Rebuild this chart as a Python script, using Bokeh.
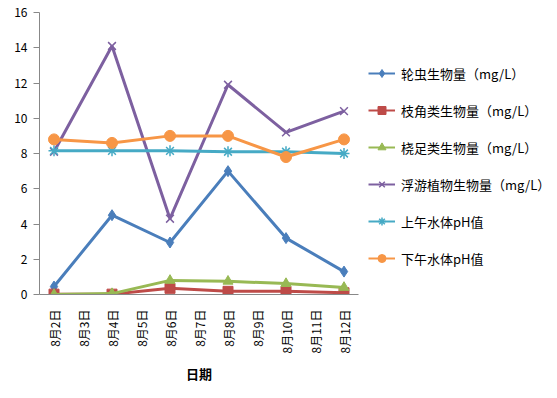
import math
from bokeh.plotting import figure
from bokeh.layouts import row
from bokeh.models import FactorRange, Legend, LegendItem, Range1d
from bokeh.embed import file_html
from bokeh.resources import INLINE

dates = ["8月2日", "8月3日", "8月4日", "8月5日", "8月6日", "8月7日",
         "8月8日", "8月9日", "8月10日", "8月11日", "8月12日"]
sample_dates = ["8月2日", "8月4日", "8月6日", "8月8日", "8月10日", "8月12日"]

rotifer = [0.45, 4.5, 2.95, 7.0, 3.2, 1.3]
cladocera = [0.02, 0.02, 0.35, 0.18, 0.18, 0.1]
copepod = [0.0, 0.05, 0.8, 0.75, 0.62, 0.4]
phyto = [8.1, 14.1, 4.3, 11.9, 9.2, 10.4]
ph_am = [8.15, 8.15, 8.15, 8.1, 8.1, 8.0]
ph_pm = [8.8, 8.6, 9.0, 9.0, 7.8, 8.8]

names = ["轮虫生物量（mg/L）", "枝角类生物量（mg/L）", "桡足类生物量（mg/L）",
         "浮游植物生物量（mg/L）", "上午水体pH值", "下午水体pH值"]
series = [rotifer, cladocera, copepod, phyto, ph_am, ph_pm]
colors = ["#4A7EBB", "#BE4B48", "#98B954", "#7D60A0", "#46AAC5", "#F79646"]
markers = ["diamond", "square", "triangle", "x", "asterisk", "circle"]
sizes = [11, 10, 10, 11, 11, 11]

FONT = "Noto Sans CJK SC"

p = figure(width=362, height=398, x_range=FactorRange(factors=dates), y_range=(0, 16),
           output_backend="svg", toolbar_location=None,
           min_border_left=39, min_border_top=12, min_border_bottom=104,
           min_border_right=4)
p.outline_line_color = None
p.xgrid.grid_line_color = None
p.ygrid.grid_line_color = None

# legend figure
lg = figure(width=195, height=398, x_range=Range1d(0, 1), y_range=Range1d(0, 1),
            output_backend="svg", toolbar_location=None,
            x_axis_type=None, y_axis_type=None,
            min_border_left=0, min_border_right=0, min_border_top=12, min_border_bottom=104)
lg.outline_line_color = None
lg.xgrid.grid_line_color = None
lg.ygrid.grid_line_color = None

items = []
for name, vals, c, m, s in zip(names, series, colors, markers, sizes):
    kw = dict(marker=m, size=s, line_color=c)
    if m in ("x", "asterisk"):
        kw["line_width"] = 1.5
    else:
        kw["fill_color"] = c
    p.line(sample_dates, vals, line_color=c, line_width=3)
    p.scatter(sample_dates, vals, **kw)
    # off-range proxies for the legend panel
    l1 = lg.line([5, 6], [5, 6], line_color=c, line_width=2)
    kw2 = dict(kw)
    kw2["size"] = 8
    l2 = lg.scatter([5], [5], **kw2)
    items.append(LegendItem(label=name, renderers=[l1, l2]))

legend = Legend(items=items, location=(6, 26), border_line_color=None,
                label_text_font=FONT, label_text_font_size="13px",
                label_text_color="#000000", spacing=17, glyph_width=27,
                glyph_height=20, label_height=20,
                label_standoff=6, padding=0, margin=0,
                background_fill_alpha=0)
lg.add_layout(legend)

p.yaxis.ticker = list(range(0, 17, 2))
p.yaxis.axis_line_color = "#888888"
p.yaxis.major_tick_line_color = "#888888"
p.yaxis.major_tick_out = 6
p.yaxis.major_tick_in = 0
p.yaxis.minor_tick_line_color = None
p.yaxis.major_label_standoff = 6
p.yaxis.major_label_text_font = FONT
p.yaxis.major_label_text_font_size = "12px"
p.yaxis.major_label_text_color = "#000000"

p.xaxis.axis_line_color = "#888888"
p.xaxis.major_tick_line_color = None
p.xaxis.major_tick_out = 0
p.xaxis.major_tick_in = 0
p.xaxis.major_label_standoff = 15
p.xaxis.major_label_orientation = math.pi / 2
p.xaxis.major_label_text_font = FONT
p.xaxis.major_label_text_font_size = "12px"
p.xaxis.major_label_text_color = "#000000"
p.xaxis.axis_label = "日期"
p.xaxis.axis_label_text_font = FONT
p.xaxis.axis_label_text_font_size = "13px"
p.xaxis.axis_label_text_font_style = "bold"
p.xaxis.axis_label_text_color = "#000000"
p.xaxis.axis_label_standoff = 8

open("out.html", "w").write(file_html(row(p, lg), INLINE))
